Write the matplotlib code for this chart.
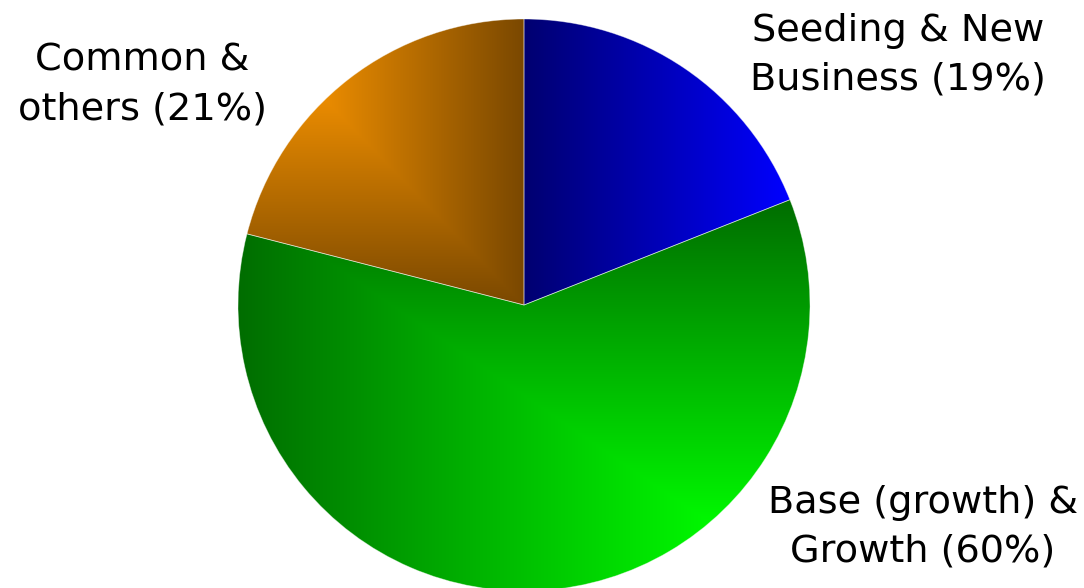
import numpy as np
import matplotlib
matplotlib.use("Agg")
import matplotlib.pyplot as plt

labels = ["Seeding & New\nBusiness (19%)", "Base (growth) &\nGrowth (60%)", "Common &\nothers (21%)"]
shares = [19, 60, 21]
# gradient end colours per slice (start, end), 0-255
grad_start = [(0, 0, 112), (0, 277, 0), (278, 166, 0)]
grad_end = [(0, 0, 255), (0, 109, 0), (122, 72, 0)]
grad_kind = ["horizontal", "from_bottom_right", "from_top_left"]

W, H = 1084, 588
fig = plt.figure(figsize=(W / 100, H / 100), dpi=100)
ax = fig.add_axes([0, 0, 1, 1])

wedges, _ = ax.pie(shares, center=(524, 283), radius=286, startangle=90,
                   counterclock=False, frame=True,
                   wedgeprops=dict(edgecolor=(1, 1, 1, 0.45), linewidth=0.6))
ax.set_aspect("equal")
ax.set_axis_off()

X, Y = np.meshgrid(np.arange(W) + 0.5, H - (np.arange(H) + 0.5))
for w, c0, c1, kind in zip(wedges, grad_start, grad_end, grad_kind):
    ext = w.get_path().get_extents()
    x0, y0, x1, y1 = ext.x0, ext.y0, ext.x1, ext.y1
    bw, bh = x1 - x0, y1 - y0
    if kind == "horizontal":
        t = (X - x0) / bw
    elif kind == "from_top_left":
        t = np.maximum((X - x0) / bw, (y1 - Y) / bh)
    else:
        t = np.maximum((x1 - X) / bw, (Y - y0) / bh)
    t = np.clip(t, 0, 1)[..., None]
    img = np.array(c0) + (np.array(c1) - np.array(c0)) * t
    img = np.clip(img, 0, 255) / 255.0
    im = ax.imshow(img, extent=(0, W, 0, H), origin="upper", zorder=1,
                   interpolation="bilinear", aspect="auto")
    im.set_clip_path(w)
    w.set_facecolor("none")
    w.set_zorder(2)

ax.set_xlim(0, W)
ax.set_ylim(0, H)

text_kw = dict(fontsize=27.5, family="DejaVu Sans", ha="center", va="center",
               linespacing=1.45, color="black")
ax.text(898, 533, labels[0], **text_kw)
ax.text(923, 61, labels[1], **text_kw)
ax.text(142, 503, labels[2], **text_kw)

fig.savefig("out.png", dpi=100)
